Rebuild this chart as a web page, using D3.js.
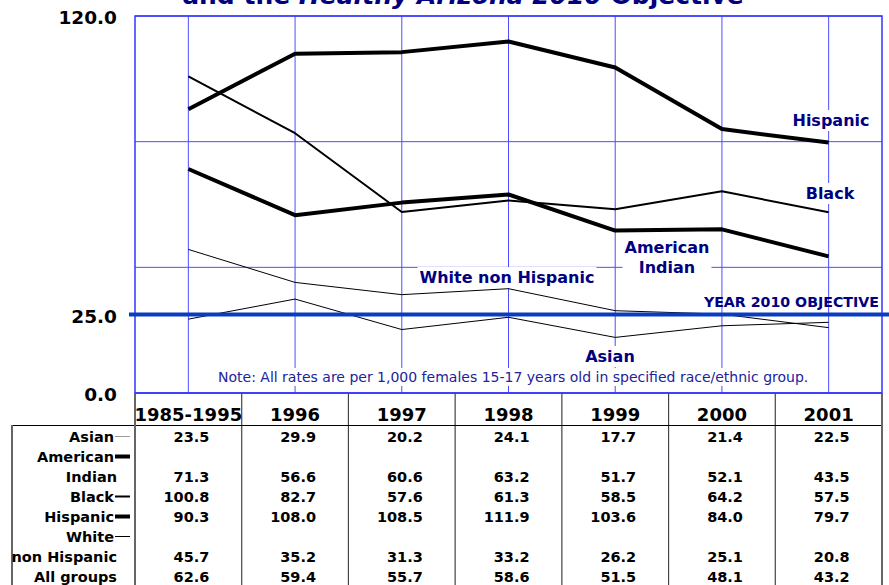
<!DOCTYPE html>
<html>
<head>
<meta charset="utf-8">
<script src="https://cdn.jsdelivr.net/npm/d3@7"></script>
<style>
body { margin: 0; background: #fff; }
svg { display: block; font-family: "DejaVu Sans", Verdana, sans-serif; }
</style>
</head>
<body>
<div id="container"><svg></svg></div>
<script>
let width = 889, height = 585;

let years = ['1985-1995', '1996', '1997', '1998', '1999', '2000', '2001'];
let asian = [23.5, 29.9, 20.2, 24.1, 17.7, 21.4, 22.5];
let american_indian = [71.3, 56.6, 60.6, 63.2, 51.7, 52.1, 43.5];
let black = [100.8, 82.7, 57.6, 61.3, 58.5, 64.2, 57.5];
let hispanic = [90.3, 108.0, 108.5, 111.9, 103.6, 84.0, 79.7];
let white_nh = [45.7, 35.2, 31.3, 33.2, 26.2, 25.1, 20.8];
let all_groups = [62.6, 59.4, 55.7, 58.6, 51.5, 48.1, 43.2];
let objective = 25;
let y_ticks = [0, 25, 120];
let grid_ticks = [40, 80, 120];

let navy = '#000080', grid = '#4d4dff', obj_color = '#0a3cc0';

let x = d3.scaleBand().domain(years).range([135, 882]);
let y = d3.scaleLinear().domain([0, 120]).range([393, 16]);
let cx = d => x(d) + x.bandwidth() / 2;

let svg = d3.select('#container').select('svg')
    .attr('width', width)
    .attr('height', height);

// title (top is cut off in the picture)
let title = svg.append('text')
    .attr('x', 463).attr('y', 4)
    .attr('text-anchor', 'middle')
    .attr('fill', navy)
    .attr('font-weight', 'bold')
    .attr('font-size', 25);
title.append('tspan').text('and the ');
title.append('tspan').attr('font-style', 'italic').text('Healthy Arizona 2010');
title.append('tspan').text(' Objective');

// grid
let g = svg.append('g');
g.selectAll('line.v')
    .data(years)
    .join('line')
    .attr('x1', d => cx(d)).attr('x2', d => cx(d))
    .attr('y1', y(120)).attr('y2', y(0))
    .attr('stroke', grid).attr('stroke-width', 1);
g.selectAll('line.h')
    .data(grid_ticks)
    .join('line')
    .attr('x1', 135).attr('x2', 882)
    .attr('y1', d => y(d)).attr('y2', d => y(d))
    .attr('stroke', grid).attr('stroke-width', 1);
g.append('rect')
    .attr('x', 135).attr('y', y(120))
    .attr('width', 882 - 135).attr('height', y(0) - y(120))
    .attr('fill', 'none')
    .attr('stroke', '#3333ff').attr('stroke-width', 1.5);

// y axis labels
let yaxis = svg.append('g')
    .attr('transform', 'translate(135,0)')
    .call(d3.axisLeft(y).tickValues(y_ticks).tickFormat(d3.format('.1f')).tickSize(0).tickPadding(18));
yaxis.select('.domain').remove();
yaxis.selectAll('text')
    .attr('font-family', '"DejaVu Sans", Verdana, sans-serif')
    .attr('font-size', 18.5)
    .attr('font-weight', 'bold')
    .attr('fill', '#000')
    .attr('dy', '0.42em');

// series
let series = [
    {name: 'Asian', values: asian, w: 1},
    {name: 'White non Hispanic', values: white_nh, w: 1},
    {name: 'Black', values: black, w: 2},
    {name: 'American Indian', values: american_indian, w: 4},
    {name: 'Hispanic', values: hispanic, w: 4}
];
let line = d3.line().x((d, i) => cx(years[i])).y(d => y(d));
svg.append('g')
    .selectAll('path')
    .data(series)
    .join('path')
    .attr('d', d => line(d.values))
    .attr('fill', 'none')
    .attr('stroke', '#000')
    .attr('stroke-width', d => d.w)
    .attr('stroke-linejoin', 'round');

// objective line
svg.append('line')
    .attr('x1', 129).attr('x2', 889)
    .attr('y1', y(objective)).attr('y2', y(objective))
    .attr('stroke', obj_color).attr('stroke-width', 4);

// labels with white boxes behind them
function label(lines, px, py, opts) {
    let grp = svg.append('g');
    let t = grp.append('text')
        .attr('text-anchor', opts.anchor || 'middle')
        .attr('font-weight', opts.weight || 'bold')
        .attr('font-size', opts.size || 16)
        .attr('fill', opts.color || navy);
    lines.forEach((s, i) => {
        t.append('tspan').attr('x', px).attr('y', py + i * 20).text(s);
    });
    if (opts.box) {
        let b = t.node().getBBox();
        grp.insert('rect', 'text')
            .attr('x', b.x - 2).attr('y', b.y - 1)
            .attr('width', b.width + 4).attr('height', b.height + 2)
            .attr('fill', '#fff');
    }
}
label(['Hispanic'], 831, 126, {box: true});
label(['Black'], 830, 199, {box: true});
label(['American', 'Indian'], 667, 253, {box: true});
label(['White non Hispanic'], 507, 283, {box: true});
label(['Asian'], 610, 362, {box: true});
label(['YEAR 2010 OBJECTIVE'], 879, 307, {anchor: 'end', size: 14.2});
label(['Note: All rates are per 1,000 females 15-17 years old in specified race/ethnic group.'], 218, 382,
    {anchor: 'start', weight: 'normal', size: 14, color: '#22229a', box: true});

// table
let tb = svg.append('g');
let bounds = years.map(d => x(d)).slice(1);
tb.selectAll('line.col')
    .data(bounds)
    .join('line')
    .attr('x1', d => d).attr('x2', d => d)
    .attr('y1', 393).attr('y2', 585)
    .attr('stroke', '#444').attr('stroke-width', 1.2);
tb.append('line').attr('x1', 12).attr('x2', 882).attr('y1', 425.5).attr('y2', 425.5)
    .attr('stroke', '#000').attr('stroke-width', 1);
[[135, 393], [882, 393], [12, 425]].forEach(p => {
    tb.append('line').attr('x1', p[0]).attr('x2', p[0]).attr('y1', p[1]).attr('y2', 585)
        .attr('stroke', '#666').attr('stroke-width', 2);
});
tb.append('line').attr('x1', 135).attr('x2', 882).attr('y1', 393).attr('y2', 393)
    .attr('stroke', '#3333ff').attr('stroke-width', 1.5);

tb.selectAll('text.yr')
    .data(years)
    .join('text')
    .attr('x', d => cx(d)).attr('y', 421)
    .attr('text-anchor', 'middle')
    .attr('font-weight', 'bold').attr('font-size', 18)
    .text(d => d);

let rows = [
    {label: ['Asian'], values: asian, w: 1, c: '#999'},
    {label: ['American', 'Indian'], values: american_indian, w: 4, c: '#000'},
    {label: ['Black'], values: black, w: 2, c: '#000'},
    {label: ['Hispanic'], values: hispanic, w: 4, c: '#000'},
    {label: ['White', 'non Hispanic'], values: white_nh, w: 1, c: '#000'},
    {label: ['All groups'], values: all_groups, w: 0}
];
let ln = 0;
rows.forEach(r => {
    r.label.forEach((s, i) => {
        let by = 442 + ln * 20;
        let sw = (i == 0 && r.w > 0);
        tb.append('text')
            .attr('x', sw ? 114 : 117).attr('y', by)
            .attr('text-anchor', 'end')
            .attr('font-weight', 'bold').attr('font-size', 14.5)
            .text(s);
        if (sw) {
            tb.append('line').attr('x1', 115).attr('x2', 130)
                .attr('y1', by - 5.5).attr('y2', by - 5.5)
                .attr('stroke', r.c).attr('stroke-width', r.w);
        }
        if (i == r.label.length - 1) {
            tb.selectAll(null)
                .data(r.values)
                .join('text')
                .attr('x', (d, k) => cx(years[k]) + 21).attr('y', by)
                .attr('text-anchor', 'end')
                .attr('font-weight', 'bold').attr('font-size', 14.5)
                .text(d => d.toFixed(1));
        }
        ln++;
    });
});
</script>
</body>
</html>
